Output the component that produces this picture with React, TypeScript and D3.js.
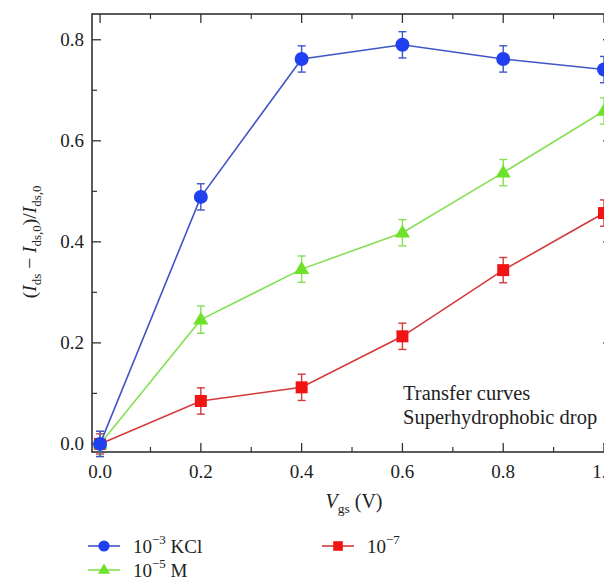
import React from "react";
import * as d3 from "d3";

const vgs = [0.0, 0.2, 0.4, 0.6, 0.8, 1.0];
const kcl3 = [0.0, 0.489, 0.762, 0.79, 0.762, 0.741];
const kcl5 = [0.0, 0.246, 0.346, 0.418, 0.537, 0.659];
const kcl7 = [0.0, 0.085, 0.112, 0.213, 0.344, 0.457];
const err3 = [0.025, 0.026, 0.026, 0.026, 0.026, 0.026];
const err5 = [0.025, 0.027, 0.026, 0.026, 0.026, 0.026];
const err7 = [0.02, 0.026, 0.026, 0.026, 0.025, 0.026];
const xMajor = [0.0, 0.2, 0.4, 0.6, 0.8, 1.0];
const xMinor = [0.1, 0.3, 0.5, 0.7, 0.9];
const yMajor = [0.0, 0.2, 0.4, 0.6, 0.8];
const yMinor = [0.1, 0.3, 0.5, 0.7];

const W = 604;
const H = 583;
const FONT = "'Liberation Serif', 'DejaVu Serif', serif";

const x = d3.scaleLinear().domain([-0.016, 1.0]).range([92, 604]);
const y = d3.scaleLinear().domain([-0.016, 0.851]).range([452, 14]);
const xRight = x(1.016);

type Series = {
  vals: number[];
  errs: number[];
  line: string;
  fill: string;
  shape: "circle" | "triangle" | "square";
};

const series: Series[] = [
  { vals: kcl7, errs: err7, line: "#d43a3a", fill: "#f01414", shape: "square" },
  { vals: kcl5, errs: err5, line: "#86df55", fill: "#6ee22a", shape: "triangle" },
  { vals: kcl3, errs: err3, line: "#4055c8", fill: "#1f3ff0", shape: "circle" },
];

function Marker({ cx, cy, shape, fill, s = 1 }: { cx: number; cy: number; shape: string; fill: string; s?: number }) {
  if (shape === "circle") return <circle cx={cx} cy={cy} r={7 * s} fill={fill} />;
  if (shape === "square")
    return <rect x={cx - 6 * s} y={cy - 6 * s} width={12 * s} height={12 * s} fill={fill} />;
  const r = 8 * s;
  const pts = [
    [cx, cy - r],
    [cx + r * 0.95, cy + r * 0.6],
    [cx - r * 0.95, cy + r * 0.6],
  ];
  return <polygon points={pts.map((p) => p.join(",")).join(" ")} fill={fill} />;
}

export default function App() {
  const lineGen = d3
    .line<number>()
    .x((_, i) => x(vgs[i]))
    .y((d) => y(d));

  const axisColor = "#333";

  return (
    <svg
      width={W}
      height={H}
      style={{ position: "absolute", left: 0, top: 0, background: "#fff" }}
      fontFamily={FONT}
    >
      <rect width={W} height={H} fill="#fff" />
      {/* frame */}
      <rect
        x={x(-0.016)}
        y={y(0.851)}
        width={xRight - x(-0.016)}
        height={y(-0.016) - y(0.851)}
        fill="none"
        stroke={axisColor}
        strokeWidth={1.6}
      />
      {/* x ticks bottom/top */}
      {xMajor.map((t) => (
        <g key={"xM" + t}>
          <line x1={x(t)} x2={x(t)} y1={y(-0.016)} y2={y(-0.016) - 9} stroke={axisColor} strokeWidth={1.3} />
          <line x1={x(t)} x2={x(t)} y1={y(0.851)} y2={y(0.851) + 9} stroke={axisColor} strokeWidth={1.3} />
          <text x={x(t)} y={478} textAnchor="middle" fontSize={19} fill="#222">
            {t.toFixed(1)}
          </text>
        </g>
      ))}
      {xMinor.map((t) => (
        <g key={"xm" + t}>
          <line x1={x(t)} x2={x(t)} y1={y(-0.016)} y2={y(-0.016) - 5} stroke={axisColor} strokeWidth={1.2} />
          <line x1={x(t)} x2={x(t)} y1={y(0.851)} y2={y(0.851) + 5} stroke={axisColor} strokeWidth={1.2} />
        </g>
      ))}
      {/* y ticks */}
      {yMajor.map((t) => (
        <g key={"yM" + t}>
          <line x1={x(-0.016)} x2={x(-0.016) + 9} y1={y(t)} y2={y(t)} stroke={axisColor} strokeWidth={1.3} />
          <line x1={xRight} x2={xRight - 9} y1={y(t)} y2={y(t)} stroke={axisColor} strokeWidth={1.3} />
          <text x={84} y={y(t) + 6.5} textAnchor="end" fontSize={19} fill="#222">
            {t.toFixed(1)}
          </text>
        </g>
      ))}
      {yMinor.map((t) => (
        <g key={"ym" + t}>
          <line x1={x(-0.016)} x2={x(-0.016) + 5} y1={y(t)} y2={y(t)} stroke={axisColor} strokeWidth={1.2} />
          <line x1={xRight} x2={xRight - 5} y1={y(t)} y2={y(t)} stroke={axisColor} strokeWidth={1.2} />
        </g>
      ))}

      {/* series */}
      {series.map((s, si) => (
        <g key={"s" + si}>
          <path d={lineGen(s.vals) || ""} fill="none" stroke={s.line} strokeWidth={1.6} />
          {s.vals.map((v, i) => (
            <g key={i} stroke={s.line} strokeWidth={1.4}>
              <line x1={x(vgs[i])} x2={x(vgs[i])} y1={y(v - s.errs[i])} y2={y(v + s.errs[i])} />
              <line x1={x(vgs[i]) - 4} x2={x(vgs[i]) + 4} y1={y(v - s.errs[i])} y2={y(v - s.errs[i])} />
              <line x1={x(vgs[i]) - 4} x2={x(vgs[i]) + 4} y1={y(v + s.errs[i])} y2={y(v + s.errs[i])} />
            </g>
          ))}
          {s.vals.map((v, i) => (
            <Marker key={"m" + i} cx={x(vgs[i])} cy={y(v)} shape={s.shape} fill={s.fill} />
          ))}
        </g>
      ))}

      {/* annotation */}
      <text x={403} y={400} fontSize={20.5} fill="#222">Transfer curves</text>
      <text x={403} y={424} fontSize={20.5} fill="#222">Superhydrophobic drop</text>

      {/* x label */}
      <text x={354} y={508} textAnchor="middle" fontSize={20} fill="#222">
        <tspan fontStyle="italic">V</tspan>
        <tspan fontSize={13.5} dy={5}>gs</tspan>
        <tspan dy={-5}> (V)</tspan>
      </text>

      {/* y label */}
      <text
        transform={`translate(36, ${y(0.4)}) rotate(-90)`}
        textAnchor="middle"
        fontSize={19.5}
        fill="#222"
      >
        <tspan>(</tspan>
        <tspan fontStyle="italic">I</tspan>
        <tspan fontSize={13} dy={5}>ds</tspan>
        <tspan dy={-5}> − </tspan>
        <tspan fontStyle="italic">I</tspan>
        <tspan fontSize={13} dy={5}>ds,0</tspan>
        <tspan dy={-5}>)/</tspan>
        <tspan fontStyle="italic">I</tspan>
        <tspan fontSize={13} dy={5}>ds,0</tspan>
      </text>

      {/* legend */}
      {[
        { s: series[2], lx: 88, ly: 546, base: "10", sup: "−3", rest: " KCl" },
        { s: series[1], lx: 88, ly: 570, base: "10", sup: "−5", rest: " M" },
        { s: series[0], lx: 322, ly: 546, base: "10", sup: "−7", rest: "" },
      ].map((l, i) => (
        <g key={"lg" + i}>
          <line x1={l.lx} x2={l.lx + 32} y1={l.ly} y2={l.ly} stroke={l.s.line} strokeWidth={1.6} />
          <Marker cx={l.lx + 16} cy={l.ly} shape={l.s.shape} fill={l.s.fill} s={0.8} />
          <text x={l.lx + 45} y={l.ly + 7} fontSize={19} fill="#222">
            <tspan>{l.base}</tspan>
            <tspan fontSize={13} dy={-9}>{l.sup}</tspan>
            <tspan dy={9}>{l.rest}</tspan>
          </text>
        </g>
      ))}
    </svg>
  );
}
